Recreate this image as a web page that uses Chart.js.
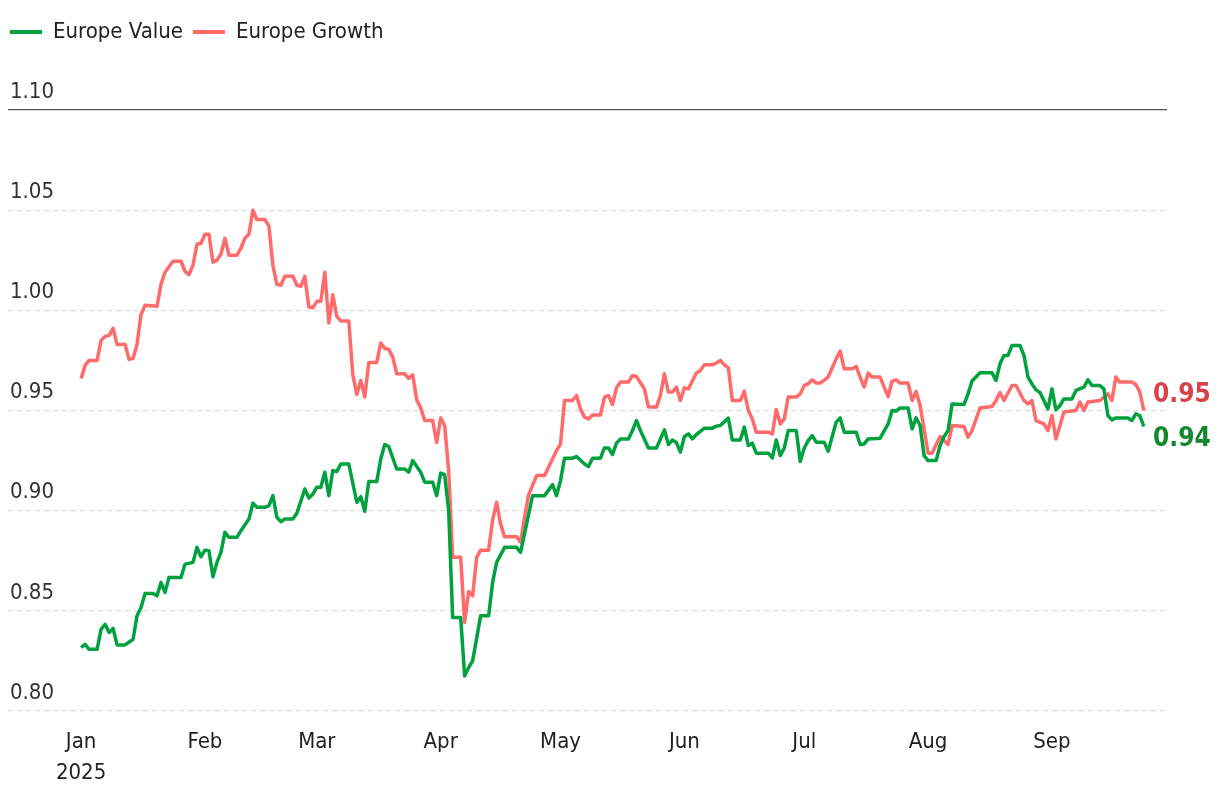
<!DOCTYPE html>
<html>
<head>
<meta charset="utf-8">
<script src="https://cdn.jsdelivr.net/npm/chart.js@4.4.1/dist/chart.umd.min.js"></script>
<style>
  html, body { margin: 0; padding: 0; background: #fff; }
  #wrap { position: relative; width: 1220px; height: 802px; }
</style>
</head>
<body>
<div id="wrap"><canvas id="chart"></canvas></div>
<script>
// Days are counted from 1 Jan 2025 (day 0)
var monthStarts = [0, 31, 59, 90, 120, 151, 181, 212, 243];
var monthLabels = ['Jan', 'Feb', 'Mar', 'Apr', 'May', 'Jun', 'Jul', 'Aug', 'Sep'];
var yearLabel = '2025';

var seriesNames = ['Europe Value', 'Europe Growth'];

// Europe Value
var valueDays = [
  0, 1, 2, 4, 5, 6, 7, 8, 9, 11, 13, 14, 15, 16, 18, 19, 20, 21, 22, 25, 26, 28, 29,
  30, 31, 32, 33, 34, 35, 36, 37, 39, 40, 42, 43, 44, 46, 47, 48, 49, 50, 51, 53, 54, 56, 57, 58,
  59, 60, 61, 62, 63, 64, 65, 67, 69, 70, 71, 72, 74, 75, 76, 77, 79, 81, 82, 83, 85, 86, 88, 89,
  90, 91, 92, 93, 95, 96, 97, 98, 100, 102, 103, 104, 106, 109, 110, 113, 116, 118, 119,
  120, 121, 123, 124, 126, 127, 128, 130, 131, 132, 133, 134, 135, 137, 138, 139, 140, 142, 144, 145, 146, 147, 148, 149, 150,
  151, 152, 153, 154, 156, 158, 159, 160, 162, 163, 165, 166, 167, 168, 169, 172, 173, 174, 175, 176, 177, 179, 180,
  181, 182, 183, 184, 186, 187, 188, 189, 190, 191, 194, 195, 196, 197, 200, 202, 203, 204, 205, 207, 208, 209, 210, 211,
  212, 214, 215, 216, 217, 218, 221, 222, 223, 225, 228, 229, 230, 231, 232, 233, 235, 236, 237, 238, 239, 240, 241, 242,
  243, 244, 245, 246, 248, 249, 251, 252, 253, 255, 256, 257, 258, 259, 262, 263, 264, 265, 266
];
var valueLevels = [
  0.8317, 0.8333, 0.8308, 0.8308, 0.8408, 0.8433, 0.8392, 0.8412, 0.833, 0.833, 0.8358, 0.8475, 0.8517, 0.8587, 0.8587, 0.8575, 0.8642, 0.8592, 0.8667, 0.8667, 0.8733, 0.8742, 0.8817,
  0.877, 0.8803, 0.88, 0.867, 0.8742, 0.8792, 0.8892, 0.8867, 0.8867, 0.89, 0.8958, 0.9037, 0.9017, 0.9017, 0.9025, 0.9075, 0.8967, 0.8945, 0.8958, 0.8958, 0.8987, 0.9108, 0.9063, 0.9083,
  0.9117, 0.9117, 0.9192, 0.9075, 0.92, 0.9195, 0.9233, 0.9233, 0.9042, 0.907, 0.8997, 0.9145, 0.9145, 0.9258, 0.933, 0.932, 0.9208, 0.9208, 0.9192, 0.925, 0.9192, 0.9142, 0.9142, 0.9075,
  0.9188, 0.918, 0.90, 0.8467, 0.8467, 0.8175, 0.8217, 0.825, 0.8475, 0.8475, 0.8642, 0.8742, 0.8817, 0.8817, 0.8792, 0.9075, 0.9075, 0.913, 0.9075,
  0.915, 0.9262, 0.9262, 0.927, 0.9233, 0.922, 0.9262, 0.9262, 0.9313, 0.9313, 0.928, 0.9337, 0.9358, 0.9358, 0.94, 0.945, 0.94, 0.9313, 0.9313, 0.9358, 0.9403, 0.933, 0.9353, 0.934, 0.9292,
  0.937, 0.9383, 0.9358, 0.938, 0.9412, 0.9412, 0.9422, 0.9425, 0.9462, 0.9353, 0.9353, 0.9417, 0.9325, 0.9337, 0.9287, 0.9287, 0.9263, 0.9353, 0.9275, 0.9313, 0.94, 0.94, 0.9245,
  0.9313, 0.935, 0.9375, 0.9342, 0.9342, 0.9297, 0.937, 0.9442, 0.9463, 0.9392, 0.9392, 0.933, 0.9333, 0.9358, 0.9362, 0.9433, 0.95, 0.9497, 0.9513, 0.9513, 0.9408, 0.9463, 0.9425, 0.9275,
  0.925, 0.925, 0.9325, 0.937, 0.94, 0.9533, 0.953, 0.9583, 0.9647, 0.9688, 0.9688, 0.965, 0.9733, 0.9775, 0.9775, 0.9825, 0.9825, 0.9775, 0.9667, 0.9633, 0.9603, 0.959, 0.955, 0.9508,
  0.9608, 0.9503, 0.9525, 0.9558, 0.9558, 0.96, 0.9617, 0.9653, 0.9625, 0.9625, 0.9608, 0.9475, 0.9453, 0.9463, 0.9463, 0.945, 0.9483, 0.9475, 0.942
];

// Europe Growth
var growthDays = [
  0, 1, 2, 4, 5, 6, 7, 8, 9, 11, 12, 13, 14, 15, 16, 19, 20, 21, 23, 25, 26, 27, 28, 29,
  30, 31, 32, 33, 34, 35, 36, 37, 39, 40, 41, 42, 43, 44, 46, 47, 48, 49, 50, 51, 53, 54, 55, 56, 57, 58,
  59, 60, 61, 62, 63, 64, 65, 67, 68, 69, 70, 71, 72, 74, 75, 76, 77, 78, 79, 81, 82, 83, 84, 85, 86, 88, 89,
  90, 91, 92, 93, 95, 96, 97, 98, 99, 100, 102, 103, 104, 105, 106, 109, 110, 111, 112, 114, 116, 117, 119,
  120, 121, 123, 124, 125, 126, 127, 128, 130, 131, 132, 133, 134, 135, 137, 138, 139, 141, 142, 144, 145, 146, 147, 148, 149, 150,
  151, 152, 154, 155, 156, 158, 159, 160, 161, 162, 163, 165, 166, 167, 168, 169, 172, 173, 174, 175, 176, 177, 179, 180,
  181, 182, 183, 184, 185, 187, 189, 190, 191, 193, 194, 195, 196, 197, 198, 200, 201, 202, 203, 204, 205, 207, 208, 209, 210, 211,
  212, 213, 215, 216, 217, 218, 221, 222, 223, 225, 228, 229, 230, 231, 233, 234, 236, 237, 238, 239, 241, 242,
  243, 244, 245, 246, 249, 250, 251, 252, 255, 257, 258, 259, 260, 263, 264, 265, 266
];
var growthLevels = [
  0.966, 0.9725, 0.975, 0.975, 0.985, 0.987, 0.9875, 0.991, 0.983, 0.983, 0.9755, 0.976, 0.983, 0.998, 1.0025, 1.002, 1.013, 1.019, 1.0245, 1.0245, 1.0195, 1.0178, 1.0225, 1.033,
  1.0335, 1.038, 1.038, 1.024, 1.025, 1.028, 1.036, 1.0275, 1.0275, 1.031, 1.036, 1.038, 1.05, 1.0453, 1.0453, 1.042, 1.0225, 1.013, 1.0125, 1.017, 1.017, 1.0125, 1.012, 1.017, 1.0017, 1.0013,
  1.0045, 1.0045, 1.019, 0.9937, 1.0078, 0.997, 0.9947, 0.9947, 0.968, 0.958, 0.965, 0.9567, 0.974, 0.974, 0.9837, 0.981, 0.9805, 0.9767, 0.9683, 0.9683, 0.966, 0.9678, 0.9553, 0.9513, 0.945, 0.945, 0.934,
  0.9463, 0.9425, 0.92, 0.8767, 0.8767, 0.8442, 0.8597, 0.8575, 0.8767, 0.8803, 0.8803, 0.8953, 0.9042, 0.8933, 0.887, 0.887, 0.8842, 0.8967, 0.9078, 0.9175, 0.9175, 0.9217, 0.93,
  0.9333, 0.955, 0.955, 0.9575, 0.9508, 0.9467, 0.9458, 0.9478, 0.9478, 0.9567, 0.9575, 0.953, 0.9613, 0.9642, 0.9642, 0.9675, 0.967, 0.9608, 0.9517, 0.9517, 0.9575, 0.9683, 0.9592, 0.9592, 0.9617, 0.955,
  0.9613, 0.9608, 0.9687, 0.97, 0.9728, 0.9728, 0.9737, 0.975, 0.9728, 0.9713, 0.955, 0.955, 0.9597, 0.95, 0.9458, 0.9392, 0.9392, 0.9383, 0.9505, 0.9433, 0.9458, 0.9567, 0.9567, 0.9583,
  0.9625, 0.9633, 0.9653, 0.9637, 0.9637, 0.9667, 0.9758, 0.9797, 0.9708, 0.9708, 0.972, 0.9667, 0.9617, 0.9687, 0.9667, 0.9667, 0.9617, 0.957, 0.9647, 0.9653, 0.9637, 0.9637, 0.955, 0.9595, 0.9525, 0.9408,
  0.9287, 0.9287, 0.937, 0.935, 0.933, 0.9425, 0.942, 0.9367, 0.94, 0.9513, 0.952, 0.955, 0.959, 0.955, 0.9625, 0.9625, 0.955, 0.9533, 0.955, 0.945, 0.9433, 0.94,
  0.9475, 0.9358, 0.9425, 0.9492, 0.95, 0.9542, 0.95, 0.9542, 0.955, 0.9583, 0.955, 0.9667, 0.9642, 0.9642, 0.963, 0.9592, 0.95
];

var FONT = '"DejaVu Sans Condensed", "Liberation Sans Narrow", sans-serif';
var GREEN = '#00a23f';
var RED = '#ff6a6a';

function toPoints(days, levels) {
  return days.map((d, i) => ({ x: d, y: levels[i] }));
}

// Make room between the legend and the plot
const legendSpace = {
  id: 'legendSpace',
  beforeInit(chart) {
    const fit = chart.legend.fit;
    chart.legend.fit = function () {
      fit.call(this);
      this.height = 99;
    };
  }
};

// Last value labels at the right end of each line
const endLabels = {
  id: 'endLabels',
  afterDatasetsDraw(chart) {
    const ctx = chart.ctx;
    const area = chart.chartArea;
    const items = chart.data.datasets.map((ds, i) => {
      const meta = chart.getDatasetMeta(i);
      const last = meta.data[meta.data.length - 1];
      return { y: last.y, text: ds.data[ds.data.length - 1].y.toFixed(2), color: ds.labelColor };
    });
    var low = items[0], high = items[1];
    var mid = (low.y + high.y) / 2;
    high.y = Math.min(high.y, mid - 23);
    low.y = Math.max(low.y, mid + 21);
    ctx.save();
    ctx.font = 'bold 26px ' + FONT;
    ctx.textAlign = 'left';
    ctx.textBaseline = 'middle';
    items.forEach(it => {
      ctx.fillStyle = it.color;
      ctx.fillText(it.text, area.right - 14, it.y);
    });
    ctx.restore();
  }
};

new Chart(document.getElementById('chart'), {
  type: 'line',
  data: {
    datasets: [
      {
        label: seriesNames[0],
        data: toPoints(valueDays, valueLevels),
        borderColor: GREEN,
        labelColor: '#12882c',
        borderWidth: 3.5,
        pointRadius: 0,
        tension: 0,
        borderJoinStyle: 'round'
      },
      {
        label: seriesNames[1],
        data: toPoints(growthDays, growthLevels),
        borderColor: RED,
        labelColor: '#d6434b',
        borderWidth: 3.5,
        pointRadius: 0,
        tension: 0,
        borderJoinStyle: 'round'
      }
    ]
  },
  options: {
    responsive: true,
    maintainAspectRatio: false,
    animation: false,
    devicePixelRatio: 1,
    layout: { padding: { top: 11, left: 0, right: 53, bottom: 0 } },
    plugins: {
      tooltip: { enabled: false },
      legend: {
        position: 'top',
        align: 'start',
        labels: {
          boxWidth: 32,
          boxHeight: 4,
          padding: 10,
          color: '#222',
          font: { family: FONT, size: 22 },
          generateLabels: chart => chart.data.datasets.map((ds, i) => ({
            text: ds.label,
            fillStyle: ds.borderColor,
            strokeStyle: ds.borderColor,
            lineWidth: 0,
            fontColor: '#222',
            hidden: false,
            datasetIndex: i
          }))
        }
      }
    },
    scales: {
      x: {
        type: 'linear',
        min: -18.3,
        max: 271.8,
        afterBuildTicks: scale => {
          scale.ticks = monthStarts.map(v => ({ value: v }));
        },
        afterFit: scale => { scale.height = 91; },
        grid: { display: false, drawTicks: false },
        border: { display: false },
        ticks: {
          autoSkip: false,
          maxRotation: 0,
          padding: 16,
          color: '#222',
          font: { family: FONT, size: 22, lineHeight: 1.4 },
          callback: (value, index) => index === 0 ? [monthLabels[0], yearLabel] : monthLabels[index]
        }
      },
      y: {
        min: 0.8,
        max: 1.1,
        afterFit: scale => { scale.width = 8; },
        grid: {
          drawTicks: false,
          lineWidth: 1.2,
          color: ctx => (ctx.tick && ctx.tick.value > 1.09) ? '#555' : '#dcdcdc'
        },
        border: {
          display: false,
          dash: ctx => (ctx.tick && ctx.tick.value > 1.09) ? [] : [5, 4]
        },
        ticks: {
          stepSize: 0.05,
          mirror: true,
          padding: 2,
          labelOffset: -18,
          color: '#333',
          font: { family: FONT, size: 22 },
          callback: v => v.toFixed(2)
        }
      }
    }
  },
  plugins: [legendSpace, endLabels]
});
</script>
</body>
</html>
